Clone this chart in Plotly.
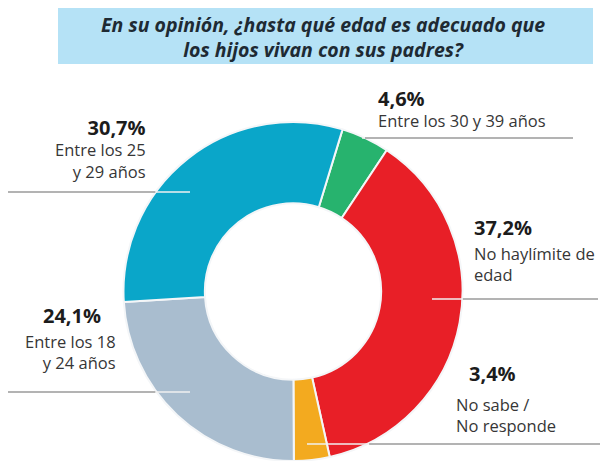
import math
import plotly.graph_objects as go

# ---- data ----
labels = ["Entre los 30 y 39 años", "No hay límite de edad", "No sabe / No responde",
          "Entre los 18 y 24 años", "Entre los 25 y 29 años"]
values = [4.6, 37.2, 3.4, 24.1, 30.7]
pct_text = ["4,6%", "37,2%", "3,4%", "24,1%", "30,7%"]
colors = ["#27b36e", "#e81f27", "#f3aa1f", "#a9bdcf", "#0aa6c9"]
title_lines = ["En su opinión, ¿hasta qué edad es adecuado que",
               "los hijos vivan con sus padres?"]

W, H = 604, 461
CX, CY, R = 293, 292, 170   # pie centre / radius in pixels
HOLE = 0.52
LBL = 16.5   # label font size
PCT = 20     # percentage font size


def px(x):
    return x / W


def py(y):
    return 1 - y / H


fig = go.Figure()
fig.add_trace(go.Pie(
    labels=labels, values=values, sort=False, direction="clockwise",
    rotation=17, hole=HOLE, textinfo="none", showlegend=False,
    marker=dict(colors=colors, line=dict(color="#f4f6f8", width=2)),
    domain=dict(x=[px(CX - R), px(CX + R)], y=[max(py(CY + R), 0), py(CY - R)]),
))

shapes = []
annotations = []

# title box
shapes.append(dict(type="rect", xref="paper", yref="paper",
                   x0=px(58), x1=px(593), y0=py(64), y1=py(8),
                   fillcolor="#b5e2f6", line=dict(width=0), layer="below"))
annotations.append(dict(text="<b><i>" + "<br>".join(title_lines) + "</i></b>",
                        x=px(323), y=py(36.5), xref="paper", yref="paper",
                        showarrow=False, xanchor="center", yanchor="middle",
                        font=dict(family="Open Sans", size=19.5, color="#1e2a33")))


def leader(x0, x1, y):
    # split the leader line where it crosses the outer edge of the ring
    dy = y - CY
    dx = math.sqrt(max(R * R - dy * dy, 0))
    edges = [CX - dx, CX + dx]
    pts = sorted([x0, x1])
    cut = None
    for e in edges:
        if pts[0] < e < pts[1]:
            cut = e
    if cut is None:
        segs = [(pts[0], pts[1], "#9a9a9a")]
    else:
        inside_left = abs(pts[0] - CX) < abs(pts[1] - CX)
        if inside_left:
            segs = [(pts[0], cut, "#f1f1f1"), (cut, pts[1], "#9a9a9a")]
        else:
            segs = [(pts[0], cut, "#9a9a9a"), (cut, pts[1], "#f1f1f1")]
    for a, b, c in segs:
        shapes.append(dict(type="line", xref="paper", yref="paper",
                           x0=px(a), x1=px(b), y0=py(y), y1=py(y),
                           line=dict(color=c, width=1.5), layer="above"))


def pct_span(t):
    return "<span style='font-size:%dpx;color:#1c1c1c'><b>%s</b></span>" % (PCT, t)


def block(lines, x, y, anchor):
    annotations.append(dict(text="<br>".join(lines), x=px(x), y=py(y),
                            xref="paper", yref="paper", showarrow=False,
                            xanchor=anchor, yanchor="middle", align=anchor,
                            font=dict(family="Open Sans", size=LBL, color="#363636")))


# 30,7%
block([pct_span(pct_text[4]), "Entre los 25", "y 29 años"], 148, 148, "right")
leader(8, 190, 192)

# 24,1%
block([pct_span(pct_text[3])], 103, 315, "right")
block(["Entre los 18", "y 24 años"], 118, 352, "right")
leader(8, 190, 392)

# 4,6%
block([pct_span(pct_text[0]), "Entre los 30 y 39 años"], 376, 108.5, "left")
leader(362, 573, 138)

# 37,2%
block([pct_span(pct_text[1])], 472, 227, "left")
block(["No haylímite de", "edad"], 472, 264, "left")
leader(432, 598, 299)

# 3,4%
block([pct_span(pct_text[2])], 467, 373, "left")
block(["No sabe /", "No responde"], 454, 415, "left")
leader(307, 600, 444)

fig.update_layout(width=W, height=H, margin=dict(l=0, r=0, t=0, b=0),
                  paper_bgcolor="white", plot_bgcolor="white",
                  shapes=shapes, annotations=annotations)
fig.write_html("out.html", config={"displayModeBar": False},
               post_script="document.body.style.margin='0';document.body.style.overflow='hidden';")
